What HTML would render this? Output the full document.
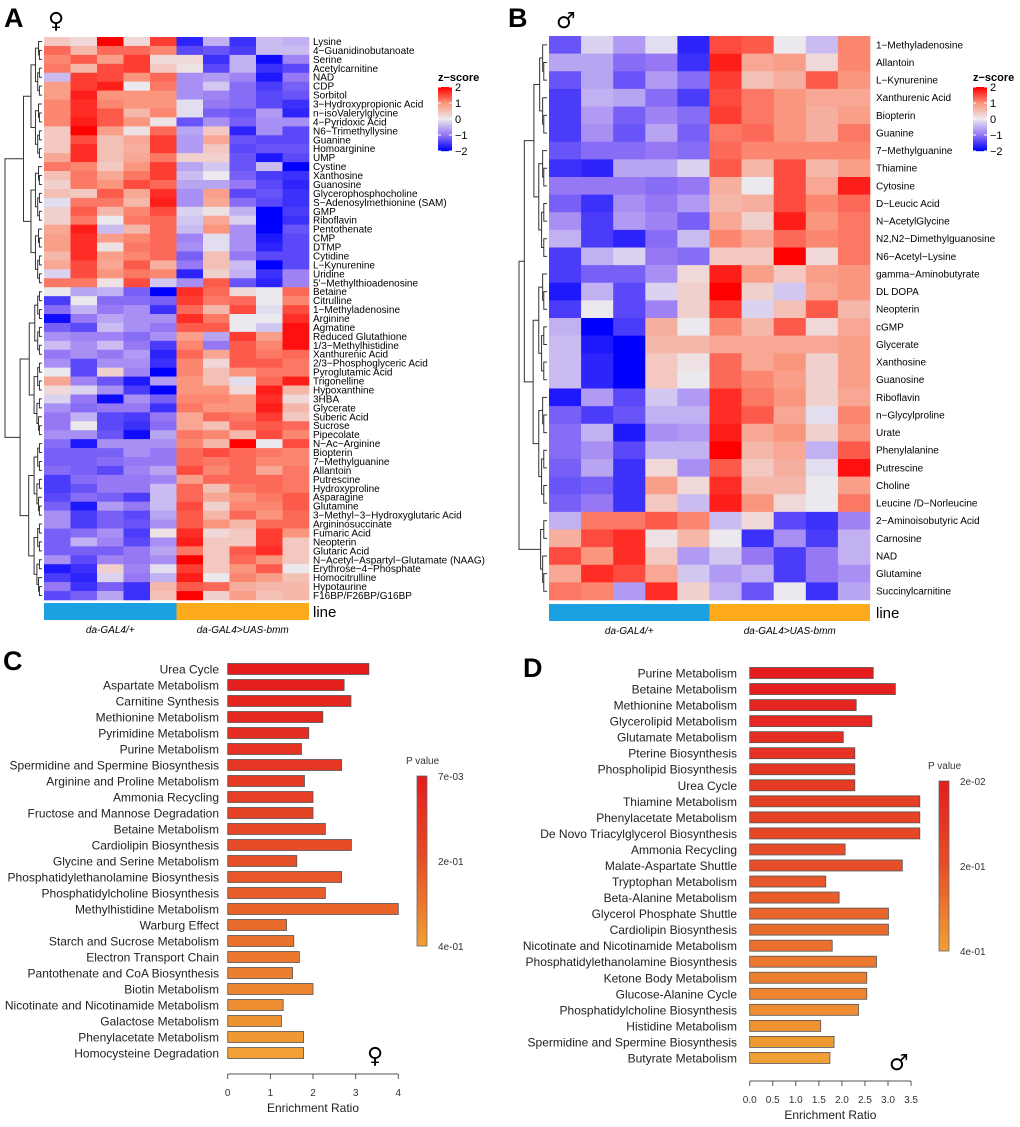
<!DOCTYPE html>
<html><head><meta charset="utf-8">
<style>
html,body{margin:0;padding:0;background:#fff;}
svg{display:block;font-family:"Liberation Sans",Arial,sans-serif;}
</style></head>
<body>
<svg id="fig" width="1020" height="1127" viewBox="0 0 1020 1127" xmlns="http://www.w3.org/2000/svg">
<text x="4" y="27" font-size="27" font-weight="bold">A</text>
<text x="508" y="27" font-size="27" font-weight="bold">B</text>
<text x="3" y="670" font-size="27" font-weight="bold">C</text>
<text x="523" y="677" font-size="27" font-weight="bold">D</text>
<text x="48" y="28" font-size="22" font-family="DejaVu Sans,sans-serif">♀</text>
<text x="556" y="28" font-size="22" font-family="DejaVu Sans,sans-serif">♂</text>
<text x="367" y="1063" font-size="22" font-family="DejaVu Sans,sans-serif">♀</text>
<text x="889" y="1070" font-size="22" font-family="DejaVu Sans,sans-serif">♂</text>
<g id="gA"></g>
<g id="gB"></g>
<g id="gC"></g>
<g id="gD"></g>
</svg>
<script>
const aLabels=["Lysine","4\u2212Guanidinobutanoate","Serine","Acetylcarnitine","NAD","CDP","Sorbitol","3\u2212Hydroxypropionic Acid","n\u2212isoValerylglycine","4\u2212Pyridoxic Acid","N6\u2212Trimethyllysine","Guanine","Homoarginine","UMP","Cystine","Xanthosine","Guanosine","Glycerophosphocholine","S\u2212Adenosylmethionine (SAM)","GMP","Riboflavin","Pentothenate","CMP","DTMP","Cytidine","L\u2212Kynurenine","Uridine","5'\u2212Methylthioadenosine","Betaine","Citrulline","1\u2212Methyladenosine","Arginine","Agmatine","Reduced Glutathione","1/3\u2212Methylhistidine","Xanthurenic Acid","2/3\u2212Phosphoglyceric Acid","Pyroglutamic Acid","Trigonelline","Hypoxanthine","3HBA","Glycerate","Suberic Acid","Sucrose","Pipecolate","N\u2212Ac\u2212Arginine","Biopterin","7\u2212Methylguanine","Allantoin","Putrescine","Hydroxyproline","Asparagine","Glutamine","3\u2212Methyl\u22123\u2212Hydroxyglutaric Acid","Argininosuccinate","Fumaric Acid","Neopterin","Glutaric Acid","N\u2212Acetyl\u2212Aspartyl\u2212Glutamate (NAAG)","Erythrose\u22124\u2212Phosphate","Homocitrulline","Hypotaurine","F16BP/F26BP/G16BP"];
const aValues=[
[0.4,0.2,2,0.2,1.6,-1.7,-0.5,-1.6,-0.4,-0.5],
[1.3,0.6,1.3,1.3,1.1,-1.4,-1.3,-1.5,-0.4,-0.4],
[1.1,1.4,0.9,1.6,0.2,0.2,-1.6,-0.5,-1.9,-0.9],
[1.2,0.6,1.5,1.6,0.4,0.1,-1.4,-0.5,-1.6,-1.4],
[-0.4,1.6,1.5,1.0,1.3,-0.8,-0.7,-0.9,-1.8,-1.0],
[0.9,1.6,1.8,0,1.2,-0.8,-0.3,-1.1,-1.5,-1.2],
[0.9,1.8,1.0,1.0,1.0,-0.8,-0.9,-1.1,-1.4,-1.3],
[1.1,1.7,1.1,1.0,1.0,-0.1,-1.0,-1.1,-1.4,-1.6],
[1.1,1.7,1.4,0.6,1.1,-0.1,-1.2,-1.3,-0.7,-1.7],
[1.1,1.8,1.4,1.0,0.1,-1.3,-0.8,-1.2,-0.8,-0.8],
[0.4,2,0.9,0.1,1.3,-0.6,0.4,-1.7,-0.8,-1.4],
[0.4,1.5,0.5,0.8,1.6,-0.7,0.8,-1.3,-1.4,-1.4],
[0.4,1.7,0.5,0.7,1.6,-0.7,0.4,-1.4,-1.3,-1.3],
[0.8,1.7,0.5,0.8,1.2,0.3,0.3,-1.3,-1.8,-1.4],
[1.2,1.1,0.4,1.0,1.6,-0.6,-0.3,-1.3,-0.4,-2],
[0.5,1.2,0.8,1.2,1.6,-0.4,0,-1.2,-1.5,-1.6],
[0.3,1.2,1.0,1.5,1.3,-0.6,-0.6,-1.0,-1.4,-1.7],
[0.5,0.4,1.4,0.8,1.7,-0.8,0.9,-1.4,-1.3,-1.6],
[-0.1,1.2,1.2,0.6,1.8,-0.8,0.8,-1.1,-1.4,-1.6],
[0.3,1.4,0.6,1.1,1.5,-0.2,0.1,-0.5,-2,-1.5],
[0.3,1.2,0,1.2,1.3,-0.3,0.8,-0.2,-2,-1.6],
[0.8,1.8,-0.4,0.6,1.3,-0.4,1.0,-0.8,-2,-1.3],
[0.9,1.7,0.9,1.1,1.3,-0.9,-0.1,-0.8,-1.8,-1.4],
[0.9,1.7,0.1,1.2,1.3,-0.8,-0.1,-0.8,-1.7,-1.4],
[0.6,1.7,0.9,1.1,1.3,-1.2,0.5,-1.0,-1.4,-1.4],
[0.8,1.5,0.8,1.4,0.7,-1.0,0.5,-0.4,-2,-1.4],
[-0.2,1.5,1.0,1.2,1.1,-1.7,0.3,-0.5,-1.6,-0.9],
[1.2,1.2,0.1,1.5,-0.3,-0.8,1.4,-1.3,-1.7,-0.9],
[0,-0.6,-0.5,-1.2,-2,1.7,1.3,0.2,0,1.3],
[-1.5,0,-1.1,-1.1,-1.2,1.6,1.2,1.3,0,1.1],
[-1.1,-0.5,-1.0,-0.8,-1.6,1.3,0.6,1.5,-0.1,1.5],
[-1.9,-1.0,-0.6,-0.8,-0.8,1.7,1.2,0,0,1.7],
[-1.2,-1.4,-0.4,-0.8,-1.0,1.4,1.4,0,-0.3,1.9],
[-0.8,-0.9,-0.9,-1.1,-0.8,0.9,-0.6,1.6,0.9,1.9],
[-0.4,-0.8,-0.4,-1.0,-1.5,1.1,-1.0,1.4,1.1,1.9],
[-1.0,-0.8,-1.0,-0.7,-1.7,1.3,0.8,1.4,1.2,1.3],
[-0.8,-1.4,-0.8,-0.8,-1.6,1.1,0.2,1.4,1.4,1.2],
[0,-1.4,0.3,-0.9,-2,1.1,0.5,1.0,1.2,1.2],
[0.8,-0.9,-1.3,-1.8,-0.7,1.0,0.5,-0.1,1.3,1.8],
[0.2,-0.2,-0.8,-1.5,-2,1.0,1.0,0.2,1.8,0.6],
[-0.2,-1.0,-1.9,-0.8,-1.2,1.1,1.1,1.0,1.7,0.2],
[-0.8,-1.1,-1.0,-1.0,-1.6,1.2,1.0,1.0,1.8,0.6],
[-1.0,-0.5,-1.4,-1.5,-1.0,0.8,1.3,1.2,1.6,0.4],
[-1.0,0,-1.4,-1.6,-1.1,0.8,0.5,1.3,1.4,1.3],
[-0.8,-0.8,-1.3,-1.9,-0.6,1.2,1.1,0.6,1.5,1.1],
[-1.1,-1.8,-0.8,-0.8,-0.8,1.1,0.6,2,0,1.5],
[-1.2,-1.2,-1.2,-0.8,-1.0,1.3,1.5,1.3,1.2,1.1],
[-1.2,-1.2,-1.1,-1.0,-1.0,1.3,1.2,1.3,1.1,1.1],
[-1.1,-1.2,-1.4,-0.9,-0.6,1.5,1.1,1.3,0.8,1.2],
[-1.5,-1.1,-1.0,-1.0,-0.9,0.9,1.3,1.3,1.3,1.2],
[-1.5,-1.3,-1.0,-1.0,-0.4,1.3,0.5,1.2,1.3,1.2],
[-1.4,-1.1,-1.2,-1.5,-0.4,1.3,0.8,1.0,1.2,1.4],
[-1.2,-1.8,-0.7,-1.0,-0.4,1.5,0.3,1.1,1.1,1.4],
[-0.8,-1.5,-1.2,-1.4,-0.6,1.4,0.6,1.3,1.0,1.3],
[-0.8,-1.5,-1.2,-1.3,-0.8,1.4,1.0,0.6,1.3,1.3],
[-1.2,-1.1,-0.8,-1.5,0.1,1.7,0.2,0.4,1.6,1.0],
[-1.2,-0.5,-0.9,-1.4,-0.8,1.8,0.4,0.4,1.6,0.4],
[-1.2,-1.2,-1.2,-1.0,-0.6,1.2,0.4,1.4,1.7,0.4],
[-0.8,-1.4,-0.9,-1.0,-0.8,2,0.4,1.3,1.0,0.4],
[-1.8,-1.6,0.3,-0.9,-0.1,1.6,0.4,1.0,1.4,0],
[-1.5,-1.7,-0.2,-1.0,-0.5,1.8,0,1.1,0.9,0.5],
[-1.0,-1.6,-1.2,-1.6,0.6,1.4,1.3,0.7,0.6,0.6],
[-1.4,-1.2,-0.6,-1.6,0.5,2,0.3,0.9,0.5,0.6]];
const bLabels=["1\u2212Methyladenosine","Allantoin","L\u2212Kynurenine","Xanthurenic Acid","Biopterin","Guanine","7\u2212Methylguanine","Thiamine","Cytosine","D\u2212Leucic Acid","N\u2212AcetylGlycine","N2,N2\u2212Dimethylguanosine","N6\u2212Acetyl\u2212Lysine","gamma\u2212Aminobutyrate","DL DOPA","Neopterin","cGMP","Glycerate","Xanthosine","Guanosine","Riboflavin","n\u2212Glycylproline","Urate","Phenylalanine","Putrescine","Choline","Leucine /D\u2212Norleucine","2\u2212Aminoisobutyric Acid","Carnosine","NAD","Glutamine","Succinylcarnitine"];
const bValues=[
[-1.3,-0.2,-0.7,-0.1,-1.7,1.5,1.4,0,-0.4,1.1],
[-0.6,-0.6,-1.1,-1.0,-1.6,1.8,0.8,0.9,0.2,1.1],
[-1.3,-0.6,-1.3,-0.7,-1.1,1.6,0.5,0.7,1.4,1.0],
[-1.5,-0.5,-0.6,-1.1,-1.5,1.5,1.2,1.0,0.8,0.8],
[-1.5,-0.7,-1.2,-0.9,-1.1,1.6,1.2,1.0,0.7,0.9],
[-1.5,-0.8,-1.3,-0.6,-1.2,1.2,1.3,1.0,0.7,1.2],
[-1.3,-1.1,-1.1,-1.0,-1.1,1.3,1.1,1.1,1.1,1.1],
[-1.6,-1.7,-0.6,-0.6,-0.2,1.4,0.6,1.5,0.6,0.9],
[-1.0,-1.0,-1.0,-1.1,-1.0,0.7,0,1.5,0.8,1.8],
[-1.2,-1.6,-0.8,-1.0,-0.7,0.6,0.7,1.5,1.1,1.3],
[-0.8,-1.5,-0.7,-0.9,-1.2,0.8,0.3,1.8,1.0,1.2],
[-0.5,-1.5,-1.7,-1.1,-0.4,1.1,0.8,1.3,1.1,1.2],
[-1.5,-0.5,-0.2,-1.0,-1.1,0.4,0.4,2,0.2,1.2],
[-1.5,-1.2,-1.2,-0.8,0.2,1.8,0.9,0.4,0.9,1.0],
[-1.8,-0.5,-1.4,-0.2,0.3,2,0.3,-0.3,0.8,1.0],
[-1.5,0,-1.4,-0.9,0.3,1.6,-0.2,0.5,1.4,0.6],
[-0.5,-2,-1.5,0.7,0,1.1,0.6,1.4,0.2,0.8],
[-0.4,-1.8,-2,0.6,0.6,0.8,0.8,0.8,0.8,0.9],
[-0.4,-1.7,-2,0.4,0.1,1.3,0.8,1.0,0.3,0.9],
[-0.4,-1.7,-2,0.4,0,1.3,1.1,0.9,0.3,0.9],
[-1.8,-0.7,-1.4,-0.3,-0.7,1.7,1.2,1.0,0.3,0.8],
[-1.2,-1.5,-1.3,-0.5,-0.5,1.7,1.4,0.8,-0.1,1.1],
[-1.1,-0.5,-1.8,-0.8,-0.7,1.8,0.8,1.0,0.3,1.0],
[-1.1,-0.8,-1.4,-0.5,-0.5,2,0.6,0.8,-0.5,1.4],
[-1.2,-0.6,-1.6,0.2,-0.8,1.4,0.4,0.7,-0.1,1.9],
[-1.3,-1.2,-1.6,0.9,0.2,1.7,0.6,0.6,0,0.9],
[-1.2,-1.0,-1.6,0.4,-0.4,1.8,1.0,0.2,0,1.2],
[-0.5,1.2,1.2,1.4,1.1,-0.4,0.2,-1.4,-1.6,-0.9],
[0.7,1.5,1.7,0.1,0.6,0,-1.6,-0.8,-1.5,-0.5],
[1.5,1.0,1.7,0.4,-0.7,-0.3,-1.0,-1.5,-1.0,-0.5],
[0.8,1.7,1.5,0.8,-0.3,-0.7,-0.5,-1.5,-1.0,-0.8],
[1.2,1.1,-0.7,1.7,0.3,-0.5,-1.3,0,-1.6,-0.6]];
const zTicks=[2,1,0,-1,-2];
const cLabels=["Urea Cycle","Aspartate Metabolism","Carnitine Synthesis","Methionine Metabolism","Pyrimidine Metabolism","Purine Metabolism","Spermidine and Spermine Biosynthesis","Arginine and Proline Metabolism","Ammonia Recycling","Fructose and Mannose Degradation","Betaine Metabolism","Cardiolipin Biosynthesis","Glycine and Serine Metabolism","Phosphatidylethanolamine Biosynthesis","Phosphatidylcholine Biosynthesis","Methylhistidine Metabolism","Warburg Effect","Starch and Sucrose Metabolism","Electron Transport Chain","Pantothenate and CoA Biosynthesis","Biotin Metabolism","Nicotinate and Nicotinamide Metabolism","Galactose Metabolism","Phenylacetate Metabolism","Homocysteine Degradation"];
const cValues=[3.31,2.73,2.89,2.23,1.9,1.73,2.67,1.8,2.0,2.0,2.29,2.9,1.62,2.67,2.29,4.0,1.38,1.55,1.68,1.52,2.0,1.3,1.26,1.78,1.78];
const cTicks=[0,1,2,3,4];
const cTickLabels=["0","1","2","3","4"];
const cPLabels=["7e-03","2e-01","4e-01"];
const dLabels=["Purine Metabolism","Betaine Metabolism","Methionine Metabolism","Glycerolipid Metabolism","Glutamate Metabolism","Pterine Biosynthesis","Phospholipid Biosynthesis","Urea Cycle","Thiamine Metabolism","Phenylacetate Metabolism","De Novo Triacylglycerol Biosynthesis","Ammonia Recycling","Malate-Aspartate Shuttle","Tryptophan Metabolism","Beta-Alanine Metabolism","Glycerol Phosphate Shuttle","Cardiolipin Biosynthesis","Nicotinate and Nicotinamide Metabolism","Phosphatidylethanolamine Biosynthesis","Ketone Body Metabolism","Glucose-Alanine Cycle","Phosphatidylcholine Biosynthesis","Histidine Metabolism","Spermidine and Spermine Biosynthesis","Butyrate Metabolism"];
const dValues=[2.68,3.16,2.31,2.65,2.03,2.28,2.28,2.28,3.69,3.69,3.69,2.07,3.31,1.65,1.94,3.01,3.01,1.79,2.75,2.54,2.54,2.36,1.54,1.83,1.74];
const dTicks=[0,0.5,1,1.5,2,2.5,3,3.5];
const dTickLabels=["0.0","0.5","1.0","1.5","2.0","2.5","3.0","3.5"];
const dPLabels=["2e-02","2e-01","4e-01"];

const NS="http://www.w3.org/2000/svg";
function mk(parent,tag,attrs){const e=document.createElementNS(NS,tag);for(const k in attrs)e.setAttribute(k,attrs[k]);parent.appendChild(e);return e;}
const zStops=[[0,0,255],[150,120,245],[236,233,238],[250,150,125],[255,0,0]];
function zColor(v){v=Math.max(-2,Math.min(2,v));const t=v+2;const i=Math.min(3,Math.floor(t));const f=t-i;const a=zStops[i],b=zStops[i+1];return `rgb(${a.map((c,k)=>Math.round(c+(b[k]-c)*f)).join(",")})`;}
const bStops=[[228,28,30],[230,80,40],[240,160,52]];
function barColor(t){const s=t*2;const i=Math.min(1,Math.floor(s));const f=s-i;const a=bStops[i],b=bStops[i+1];return `rgb(${a.map((c,k)=>Math.round(c+(b[k]-c)*f)).join(",")})`;}

function heatmap(g,labels,vals,x0,x1,y0,y1,labelX,leafX,rootX,topSplit,bars,legX,groupNames){
  const n=labels.length, cols=vals[0].length;
  const cw=(x1-x0)/cols, rh=(y1-y0)/n;
  const yc=i=>y0+(i+0.5)*rh;
  vals.forEach((row,i)=>row.forEach((v,j)=>{
    const r=mk(g,'rect',{x:x0+j*cw,y:y0+i*rh,width:cw+0.3,height:rh+0.3,fill:zColor(v)});
    
    
  }));
  labels.forEach((l,i)=>{
    const t=mk(g,'text',{x:labelX,y:yc(i)+3.5,'font-size':10});
    t.textContent=l;
    
    
  });
  // dendrogram
  const dg=mk(g,'g',{stroke:'#333','stroke-width':1,fill:'none'});
  
  
  function node(a,b,split){
    if(a===b)return {x:leafX,y:yc(a)};
    const m=split!==undefined?split:Math.floor((a+b+1)/2);
    const L=node(a,m-1),R=node(m,b);
    const size=b-a+1;
    const x=(a===0&&b===n-1)?rootX:leafX-(leafX-rootX)*0.92*Math.pow(size/n,0.75);
    mk(dg,'path',{d:`M${L.x},${L.y}H${x}V${R.y}H${R.x}`});
    return {x:x,y:(L.y+R.y)/2};
  }
  node(0,n-1,topSplit);
  // group bar
  const mid=x0+(x1-x0)/2;
  const r1=mk(g,'rect',{x:x0,y:bars[0],width:mid-x0,height:bars[1]-bars[0],fill:'#1ba1e2'});
  
  
  const r2=mk(g,'rect',{x:mid,y:bars[0],width:x1-mid,height:bars[1]-bars[0],fill:'#fdab1a'});
  
  
  const lt=mk(g,'text',{x:labelX,y:bars[1]-3,'font-size':15});
  lt.textContent='line';
  
  
  groupNames.forEach((nm,k)=>{
    const t=mk(g,'text',{x:x0+(x1-x0)*(k*2+1)/4,y:bars[1]+13,'font-size':10,'font-style':'italic','text-anchor':'middle'});
    t.textContent=nm;
    
    
  });
  // legend
  const lg=mk(g,'g',{});
  
  
  const tt=mk(lg,'text',{x:legX,y:81,'font-size':11,'font-weight':'bold'});
  tt.textContent='z\u2212score';
  const ly0=87,ly1=151;
  for(let k=0;k<64;k++){const v=2-4*k/63;mk(lg,'rect',{x:legX,y:ly0+k,width:14,height:1.2,fill:zColor(v)});}
  zTicks.forEach(v=>{
    const y=ly0+(2-v)/4*(ly1-ly0);
    mk(lg,'line',{x1:legX,x2:legX+3,y1:y,y2:y,stroke:'#fff','stroke-width':1});
    mk(lg,'line',{x1:legX+11,x2:legX+14,y1:y,y2:y,stroke:'#fff','stroke-width':1});
    const t=mk(lg,'text',{x:legX+17,y:y+4,'font-size':11});
    t.textContent=(v<0?'\u2212'+(-v):String(v));
  });
}
heatmap(document.getElementById('gA'),aLabels,aValues,44,309,37,600,313,42,5,28,[603,620],438,["da-GAL4/+","da-GAL4>UAS-bmm"]);
heatmap(document.getElementById('gB'),bLabels,bValues,549,870,36,600,876,547,519,27,[604,621],973,["da-GAL4/+","da-GAL4>UAS-bmm"]);

function barChart(g,labels,vals,x0,unit,yTop,step,labelX,axisY,ticks,tickLabels,pLabels,cbX,cbY0,cbY1){
  const n=labels.length;
  const xs=v=>x0+v*unit;
  vals.forEach((v,i)=>{
    const y=yTop+i*step;
    const r=mk(g,'rect',{x:x0,y:y-5.5,width:xs(v)-x0,height:11,fill:barColor(i/(n-1)),stroke:'#555','stroke-width':0.8});
    
    
    const t=mk(g,'text',{x:labelX,y:y+4.5,'font-size':12,'text-anchor':'end',fill:'#222'});
    t.textContent=labels[i];
    
    
  });
  const ax=mk(g,'g',{stroke:'#555','stroke-width':1});
  
  
  mk(ax,'line',{x1:xs(ticks[0]),x2:xs(ticks[ticks.length-1]),y1:axisY,y2:axisY});
  ticks.forEach((v,k)=>{
    mk(ax,'line',{x1:xs(v),x2:xs(v),y1:axisY,y2:axisY+5});
    const t=mk(g,'text',{x:xs(v),y:axisY+22,'font-size':10,'text-anchor':'middle',fill:'#333'});
    t.textContent=tickLabels[k];
    
    
  });
  const tt=mk(g,'text',{x:(xs(ticks[0])+xs(ticks[ticks.length-1]))/2,y:axisY+38,'font-size':12,'text-anchor':'middle',fill:'#222'});
  tt.textContent='Enrichment Ratio';
  
  
  // p legend
  const lg=mk(g,'g',{});
  
  
  const pt=mk(lg,'text',{x:cbX-11,y:cbY0-12,'font-size':10,fill:'#333'});
  pt.textContent='P value';
  const h=cbY1-cbY0;
  for(let k=0;k<h;k++){mk(lg,'rect',{x:cbX,y:cbY0+k,width:10,height:1.2,fill:barColor(k/(h-1))});}
  mk(lg,'rect',{x:cbX,y:cbY0,width:10,height:h,fill:'none',stroke:'#666','stroke-width':0.8});
  pLabels.forEach((p,k)=>{
    const t=mk(lg,'text',{x:cbX+21,y:cbY0+k*h/2+4,'font-size':10,fill:'#333'});
    t.textContent=p;
  });
}
barChart(document.getElementById('gC'),cLabels,cValues,227.7,42.65,669,16.0,219,1074,cTicks,cTickLabels,cPLabels,417,776,946);
barChart(document.getElementById('gD'),dLabels,dValues,749.7,46.1,673,16.04,737,1081,dTicks,dTickLabels,dPLabels,939,781,951);
</script>
</body></html>
